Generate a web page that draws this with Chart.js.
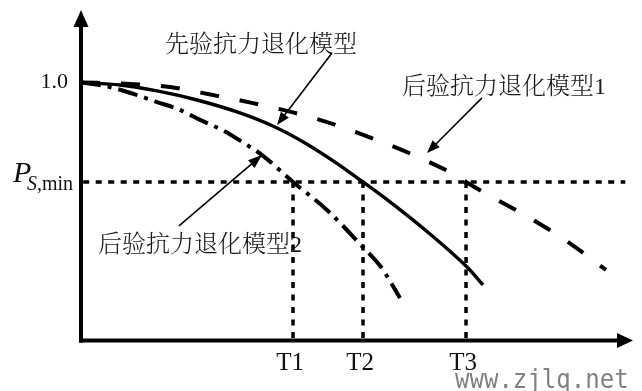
<!DOCTYPE html>
<html><head><meta charset="utf-8">
<script src="https://cdn.jsdelivr.net/npm/chart.js@4/dist/chart.umd.min.js"></script>
<style>html,body{margin:0;padding:0;background:#fff;overflow:hidden}#wrap{width:642px;height:391px;position:relative}</style>
</head><body><div id="wrap"><canvas id="c" width="642" height="391"></canvas></div>
<script>
// ---- data ----
const seriesNames = ['先验抗力退化模型', '后验抗力退化模型1', '后验抗力退化模型2'];
const priorX = [0, 0.707, 1.377, 2.101, 2.880, 3.551, 4.058, 4.601, 5.109, 5.580, 6.322, 6.993, 7.283];
const priorY = [1.0, 0.990, 0.967, 0.932, 0.882, 0.824, 0.766, 0.692, 0.615, 0.541, 0.414, 0.286, 0.217];
const post1X = [0, 0.888, 1.612, 2.391, 3.116, 3.877, 4.620, 5.362, 6.069, 6.775, 6.975, 7.446, 8.098, 8.768, 9.511];
const post1Y = [1.0, 0.994, 0.982, 0.951, 0.920, 0.882, 0.835, 0.777, 0.715, 0.642, 0.615, 0.557, 0.480, 0.391, 0.275];
const post2X = [0, 0.525, 0.960, 1.377, 1.757, 2.156, 2.554, 2.917, 3.279, 3.841, 4.475, 5.054, 5.435, 5.779];
const post2Y = [1.0, 0.982, 0.955, 0.924, 0.897, 0.855, 0.816, 0.770, 0.719, 0.615, 0.503, 0.375, 0.286, 0.166];
const xTickLabels = ['T1', 'T2', 'T3'];
const xTickValues = [3.841, 5.109, 6.975];
const yTickLabels = ['1.0'];
const yTickValues = [1.0];
const pMin = 0.615;
const pMinLabel = ['P', 'S', ',min'];
const thresholdSpan = [0.04, 9.86];
const watermark = 'www.zjlq.net';

// ---- build datasets ----
const zip = (xs, ys) => xs.map((x, i) => ({x, y: ys[i]}));
const dotted = {borderColor:'#000', borderWidth:3.5, borderDash:[6,6.5], pointRadius:0, fill:false, tension:0};
const datasets = [
  Object.assign({}, dotted, {data:[{x:thresholdSpan[0], y:pMin},{x:thresholdSpan[1], y:pMin}]}),
  ...xTickValues.map(t => Object.assign({}, dotted, {data:[{x:t, y:pMin},{x:t, y:0}]})),
  {label:seriesNames[0], data:zip(priorX, priorY), borderColor:'#000', borderWidth:3.4, pointRadius:0, cubicInterpolationMode:'monotone', fill:false},
  {label:seriesNames[1], data:zip(post1X, post1Y), borderColor:'#000', borderWidth:4, borderDash:[19,21], pointRadius:0, cubicInterpolationMode:'monotone', fill:false},
  {label:seriesNames[2], data:zip(post2X, post2Y), borderColor:'#000', borderWidth:4, borderDash:[20,7,4,7], pointRadius:0, cubicInterpolationMode:'monotone', fill:false}
];

const annotations = [
  {text:seriesNames[0], tx:1.522, ty:1.141, from:[4.547,1.114], to:[3.551,0.835], head:13},
  {text:seriesNames[1], tx:5.815, ty:0.978, from:[7.264,0.940], to:[6.268,0.727], head:13},
  {text:seriesNames[2], tx:0.308, ty:0.367, from:[1.775,0.445], to:[3.279,0.719], head:14}
];

const cjk = "'Liberation Serif', 'Noto Serif CJK SC', 'Noto Sans CJK SC', serif";

function arrowHead(ctx, x1, y1, x2, y2, len, half) {
  const a = Math.atan2(y2 - y1, x2 - x1);
  const bx = x2 - len * Math.cos(a), by = y2 - len * Math.sin(a);
  ctx.beginPath();
  ctx.moveTo(x2, y2);
  ctx.lineTo(bx + half * Math.sin(a), by - half * Math.cos(a));
  ctx.lineTo(bx - half * Math.sin(a), by + half * Math.cos(a));
  ctx.closePath();
  ctx.fill();
}

const overlay = {
  id:'overlay',
  afterDatasetsDraw(chart) {
    const ctx = chart.ctx, xs = chart.scales.x, ys = chart.scales.y;
    const X = v => xs.getPixelForValue(v), Y = v => ys.getPixelForValue(v);
    const x0 = X(0), y0 = Y(0) - 0.5;
    const top = chart.chartArea.top, right = chart.chartArea.right;
    ctx.save();
    ctx.fillStyle = '#000'; ctx.strokeStyle = '#000'; ctx.setLineDash([]);
    // axes
    ctx.lineWidth = 4; ctx.lineCap = 'butt';
    ctx.beginPath(); ctx.moveTo(x0, y0 + 2); ctx.lineTo(x0, top + 14); ctx.stroke();
    ctx.beginPath(); ctx.moveTo(x0 - 2, y0); ctx.lineTo(right - 14, y0); ctx.stroke();
    arrowHead(ctx, x0, y0, x0, top, 17, 7.5);
    arrowHead(ctx, x0, y0, right, y0, 16, 7.5);
    // y tick label
    ctx.fillStyle = '#111';
    ctx.font = "22px 'Liberation Serif', serif";
    ctx.textAlign = 'right'; ctx.textBaseline = 'middle';
    yTickLabels.forEach((l, i) => ctx.fillText(l, x0 - 13, Y(yTickValues[i]) + 0));
    // P_S,min label
    ctx.textBaseline = 'alphabetic'; ctx.textAlign = 'left';
    const py = Y(pMin);
    ctx.font = "italic 30px 'Liberation Serif', serif";
    ctx.fillText(pMinLabel[0], 13, py);
    ctx.font = "italic 20px 'Liberation Serif', serif";
    ctx.fillText(pMinLabel[1], 27, py + 8);
    const sw = ctx.measureText(pMinLabel[1]).width;
    ctx.font = "20px 'Liberation Serif', serif";
    ctx.fillText(pMinLabel[2], 27 + sw, py + 8);
    // x tick labels
    ctx.font = "25px 'Liberation Serif', serif";
    ctx.textAlign = 'center';
    xTickLabels.forEach((l, i) => ctx.fillText(l, X(xTickValues[i]) - 3, 370));
    // annotations
    ctx.font = "300 24px " + cjk;
    ctx.textAlign = 'left'; ctx.textBaseline = 'middle';
    ctx.fillStyle = '#1a1a1a';
    annotations.forEach(a => {
      ctx.fillText(a.text, X(a.tx), Y(a.ty));
    });
    ctx.fillStyle = '#000'; ctx.lineWidth = 1.6;
    annotations.forEach(a => {
      const fx = X(a.from[0]), fy = Y(a.from[1]), tx = X(a.to[0]), ty = Y(a.to[1]);
      const ang = Math.atan2(ty - fy, tx - fx);
      ctx.beginPath(); ctx.moveTo(fx, fy);
      ctx.lineTo(tx - (a.head - 2) * Math.cos(ang), ty - (a.head - 2) * Math.sin(ang));
      ctx.stroke();
      arrowHead(ctx, fx, fy, tx, ty, a.head, 5);
    });
    // watermark
    ctx.save();
    ctx.fillStyle = '#808080';
    ctx.font = "27px 'DejaVu Sans Mono', monospace";
    ctx.textAlign = 'left'; ctx.textBaseline = 'alphabetic';
    ctx.translate(455, 388); ctx.scale(0.89, 1);
    ctx.fillText(watermark, 0, 0);
    ctx.restore();
    ctx.restore();
  }
};

new Chart(document.getElementById('c'), {
  type:'line',
  data:{datasets},
  options:{
    responsive:false, animation:false, devicePixelRatio:1,
    parsing:true,
    layout:{padding:{left:81, right:9, top:10, bottom:50}},
    scales:{
      x:{type:'linear', min:0, max:10, display:false},
      y:{type:'linear', min:0, max:1.28, display:false}
    },
    plugins:{legend:{display:false}, tooltip:{enabled:false}},
    elements:{line:{borderCapStyle:'butt'}}
  },
  plugins:[overlay]
});
</script></body></html>
